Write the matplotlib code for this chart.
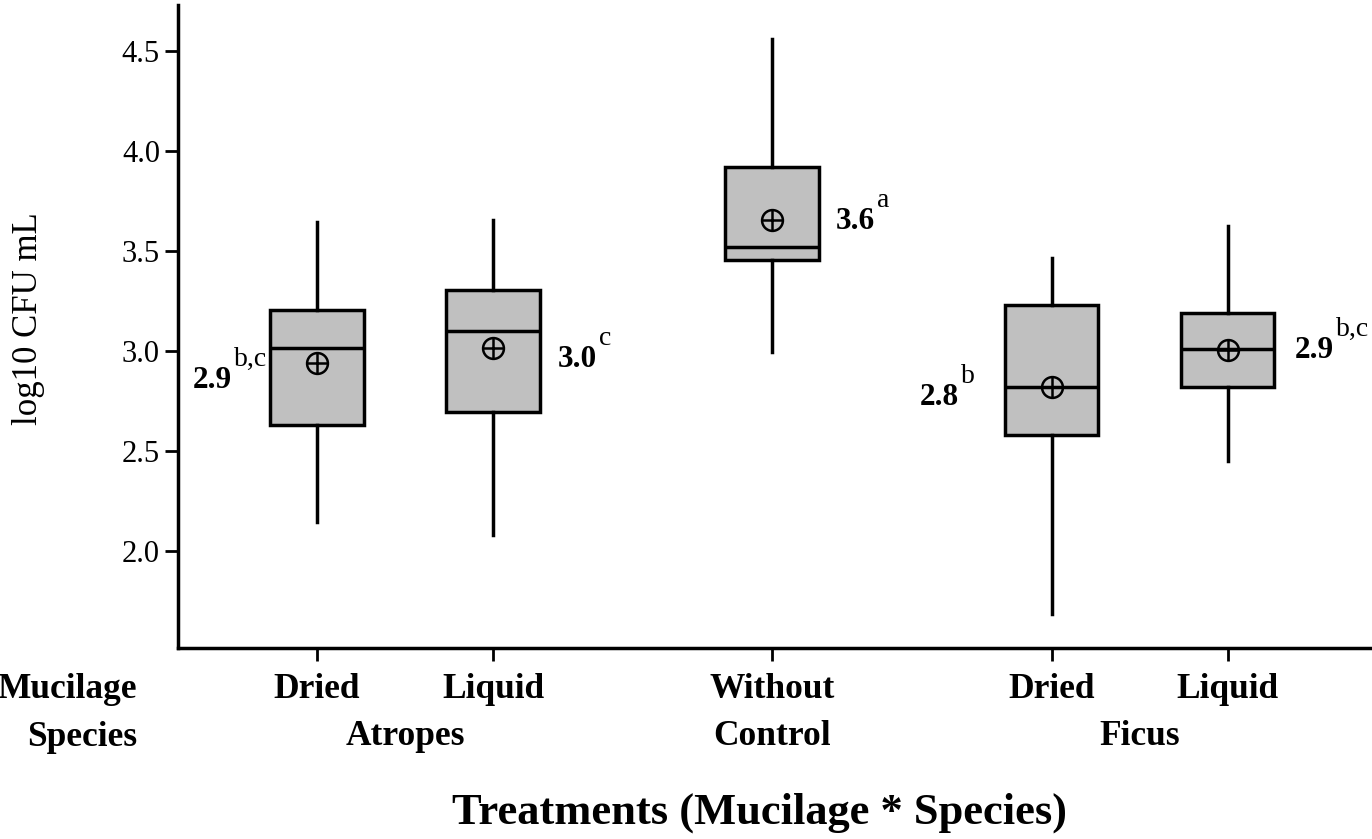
"""Box plot of log10 CFU per treatment (mucilage * species)."""

import matplotlib
matplotlib.use("Agg")
import matplotlib.pyplot as plt
import matplotlib.transforms as mtransforms

plt.rcParams["font.family"] = ["Liberation Serif", "DejaVu Serif"]

MUCILAGE = ["Dried", "Liquid", "Without", "Dried", "Liquid"]
SPECIES = ["Atropes", "Control", "Ficus"]
SPECIES_GROUPS = [[0, 1], [2], [3, 4]]

WHISK_LO = [2.145, 2.08, 2.995, 1.685, 2.45]
Q1 = [2.63, 2.695, 3.455, 2.58, 2.82]
MEDIAN = [3.015, 3.10, 3.52, 2.82, 3.01]
Q3 = [3.205, 3.305, 3.92, 3.23, 3.19]
WHISK_HI = [3.645, 3.655, 4.56, 3.465, 3.625]
MEAN = [2.94, 3.015, 3.655, 2.82, 3.005]

MEAN_LABELS = ["2.9", "3.0", "3.6", "2.8", "2.9"]
LETTERS = ["b,c", "c", "a", "b", "b,c"]
LABEL_DX = [-0.705, 0.37, 0.36, -0.75, 0.38]
LABEL_Y = [2.815, 2.92, 3.61, 2.73, 2.965]

POSITIONS = [1.0, 2.0, 3.585, 5.175, 6.175]
YTICKS = [2.0, 2.5, 3.0, 3.5, 4.0, 4.5]


def main() -> None:
    fig = plt.figure(figsize=(13.72, 8.39), dpi=100)
    ax = fig.add_axes([178 / 1372, 1 - 648 / 839, 1 - 178 / 1372, 643 / 839])

    stats = []
    for i in range(len(POSITIONS)):
        stats.append({
            "whislo": WHISK_LO[i], "q1": Q1[i], "med": MEDIAN[i],
            "q3": Q3[i], "whishi": WHISK_HI[i], "mean": MEAN[i], "fliers": [],
        })
    lw = 2.5
    ax.bxp(
        stats, positions=POSITIONS, widths=0.53, patch_artist=True,
        showcaps=False, showmeans=False,
        boxprops=dict(facecolor="#c0c0c0", edgecolor="black", linewidth=lw),
        medianprops=dict(color="black", linewidth=lw),
        whiskerprops=dict(color="black", linewidth=lw),
    )
    ax.plot(POSITIONS, MEAN, "o", ms=15, mfc="none", mec="black", mew=1.8, zorder=5)
    ax.plot(POSITIONS, MEAN, "+", ms=15, mec="black", mew=1.8, zorder=5)

    for i, x in enumerate(POSITIONS):
        t = ax.text(x + LABEL_DX[i], LABEL_Y[i], MEAN_LABELS[i], fontsize=22.5,
                    fontweight="bold", ha="left", va="baseline")
        ax.annotate(LETTERS[i], xy=(1, 0.78), xycoords=t, xytext=(1.5, 0),
                    textcoords="offset points", fontsize=20, ha="left", va="bottom")

    ax.set_xlim(0.21, 6.994)
    ax.set_ylim(1.515, 4.73)
    ax.set_yticks(YTICKS)
    ax.set_yticklabels([f"{v:.1f}" for v in YTICKS])
    ax.set_xticks(POSITIONS)
    ax.set_xticklabels([])
    ax.tick_params(axis="both", direction="out", length=9.5, width=2, labelsize=22)
    for side in ["top", "right"]:
        ax.spines[side].set_visible(False)
    for side in ["left", "bottom"]:
        ax.spines[side].set_linewidth(2.5)
    ax.set_ylabel("log10 CFU mL", fontsize=25)
    ax.yaxis.set_label_coords(-0.111, 0.513)

    trans = mtransforms.blended_transform_factory(ax.transData, ax.transAxes)
    for x, name in zip(POSITIONS, MUCILAGE):
        ax.text(x, -0.064, name, transform=trans, fontsize=25.5, fontweight="bold",
                ha="center", va="center")
    for name, idx in zip(SPECIES, SPECIES_GROUPS):
        xc = sum(POSITIONS[j] for j in idx) / len(idx)
        ax.text(xc, -0.138, name, transform=trans, fontsize=25.5, fontweight="bold",
                ha="center", va="center")
    fig.text(137 / 1372, 1 - 689 / 839, "Mucilage", fontsize=25.5, fontweight="bold",
             ha="right", va="center")
    fig.text(137 / 1372, 1 - 737 / 839, "Species", fontsize=25.5, fontweight="bold",
             ha="right", va="center")
    ax.text(POSITIONS[2] - 0.07, -0.256, "Treatments (Mucilage * Species)", transform=trans,
            fontsize=32, fontweight="bold", ha="center", va="center")

    fig.savefig("out.png", dpi=100)
    plt.close(fig)


if __name__ == "__main__":
    main()
